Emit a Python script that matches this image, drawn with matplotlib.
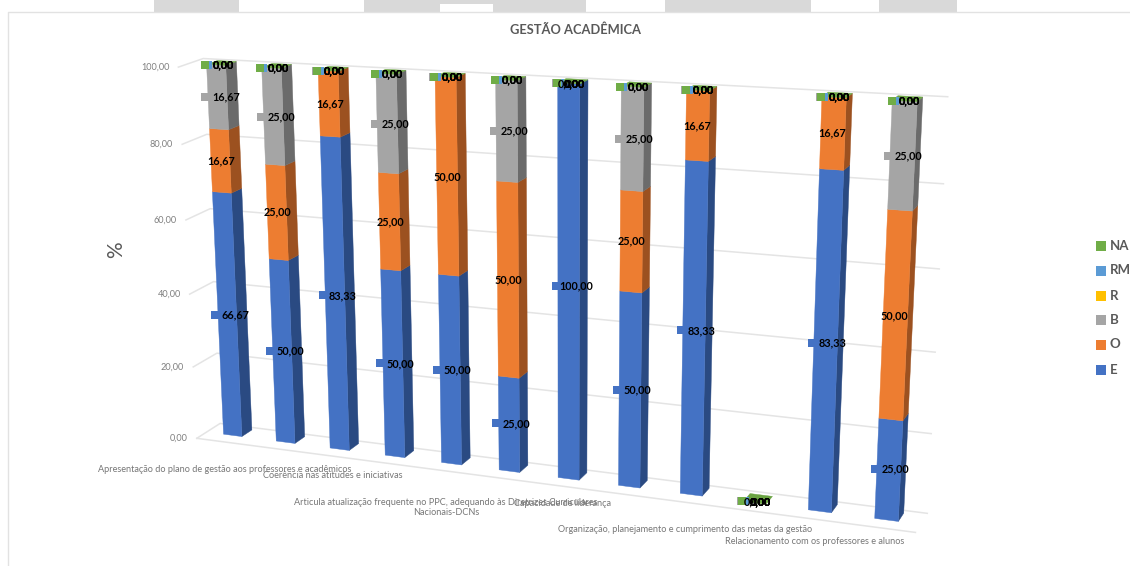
import numpy as np
import matplotlib
matplotlib.use("Agg")
import matplotlib.pyplot as plt
from matplotlib.patches import Polygon, Rectangle

plt.rcParams['font.family'] = ['Lato', 'DejaVu Sans']

# Percentages per item (12 items, stacked from E up to NA)
e_vals = [66.67, 50, 83.33, 50, 50, 25, 100, 50, 83.33, 0, 83.33, 25]
o_vals = [16.67, 25, 16.67, 25, 50, 50, 0, 25, 16.67, 0, 16.67, 50]
b_vals = [16.67, 25, 0, 25, 0, 25, 0, 25, 0, 0, 0, 25]
r_vals = [0] * 12
rm_vals = [0] * 12
na_vals = [0] * 12

series_names = ['E', 'O', 'B', 'R', 'RM', 'NA']
series_vals = [e_vals, o_vals, b_vals, r_vals, rm_vals, na_vals]
front_colors = ['#4472c4', '#ed7d31', '#a5a5a5', '#ffc000', '#5b9bd5', '#70ad47']
side_colors = ['#2a4a82', '#9c5120', '#6b6b6b', '#a67d00', '#3b6589', '#497030']

y_ticks = [0, 20, 40, 60, 80, 100]

# Only every other item gets a name on the axis
cat_labels = [
    (225, 470, "Apresentação do plano de gestão aos professores e acadêmicos"),
    (333, 476, "Coerência nas atitudes e iniciativas"),
    (446, 507.5, "Articula atualização frequente no PPC, adequando às Diretrizes Curriculares\nNacionais-DCNs"),
    (562, 504, "Capacidade de liderança"),
    (685, 530, "Organização, planejamento e cumprimento das metas da gestão"),
    (815, 542, "Relacionamento com os professores e alunos"),
]

BAR_W = 0.35
Z_FRONT = 0.42
Z_BACK = 0.86
X_L = 0.5 - BAR_W / 2
X_R = 0.5 + BAR_W / 2

# Camera: (item, value, depth) -> pixel pairs used to solve the perspective matrix
camera_pts = [
    (0, 0, 0, 199, 437), (0, 0, 1, 218, 423), (0, 100, 0, 178, 64), (0, 100, 1, 207, 57),
    (12, 0, 0, 917, 531), (12, 0, 1, 930, 510), (12, 100, 1, 948, 96),
    (X_L, 0, Z_FRONT, 223, 434), (X_L, 100, Z_FRONT, 205, 64),
    (1 + X_L, 0, Z_FRONT, 277, 441), (1 + X_L, 100, Z_FRONT, 261, 68),
    (2 + X_L, 0, Z_FRONT, 330, 448), (2 + X_L, 100, Z_FRONT, 317, 72),
    (3 + X_L, 0, Z_FRONT, 385, 457), (3 + X_L, 100, Z_FRONT, 376, 76),
    (4 + X_L, 0, Z_FRONT, 442, 463), (4 + X_L, 100, Z_FRONT, 435, 78),
    (5 + X_L, 0, Z_FRONT, 499, 470), (5 + X_L, 100, Z_FRONT, 496, 81),
    (6 + X_L, 0, Z_FRONT, 558, 478), (6 + X_L, 100, Z_FRONT, 558, 83),
    (7 + X_L, 0, Z_FRONT, 618, 486), (7 + X_L, 100, Z_FRONT, 621, 85),
    (8 + X_L, 0, Z_FRONT, 680, 494), (8 + X_L, 100, Z_FRONT, 686, 88),
    (10 + X_L, 0, Z_FRONT, 808, 510), (10 + X_L, 100, Z_FRONT, 822, 96),
    (11 + X_L, 0, Z_FRONT, 873, 518), (11 + X_L, 100, Z_FRONT, 893, 101),
    (X_R, 0, Z_BACK, 252, 430), (X_R, 100, Z_BACK, 236, 61),
    (11 + X_R, 0, Z_BACK, 902, 515), (11 + X_R, 100, Z_BACK, 922, 98),
]


def solve_camera(pts):
    rows, rhs = [], []
    for x, v, z, u, w in pts:
        rows.append([x, v, z, 1, 0, 0, 0, 0, -u * x, -u * v, -u * z])
        rhs.append(u)
        rows.append([0, 0, 0, 0, x, v, z, 1, -w * x, -w * v, -w * z])
        rhs.append(w)
    a = np.array(rows, dtype=float)
    scale = np.abs(a).max(axis=0)
    sol = np.linalg.lstsq(a / scale, np.array(rhs, dtype=float), rcond=None)[0] / scale
    return np.append(sol, 1.0).reshape(3, 4)


CAM = solve_camera(camera_pts)


def project(x, v, z):
    p = CAM @ np.array([x, v, z, 1.0])
    return p[0] / p[2], p[1] / p[2]


fig = plt.figure(figsize=(11.3, 5.66), dpi=100)
ax = fig.add_axes([0, 0, 1, 1])
ax.set_xlim(0, 1130)
ax.set_ylim(566, 0)
ax.axis('off')

# Spreadsheet tabs above the chart area and its frame
for x0, x1 in [(154, 239), (364, 586), (665, 811), (879, 957)]:
    ax.add_patch(Rectangle((x0, 0), x1 - x0, 12, fc='#d9d9d9', ec='none', zorder=1))
ax.add_patch(Rectangle((440, 4), 53, 8, fc='white', ec='none', zorder=1))
ax.plot([8, 8, 1130], [566, 12, 12], color='#e2e2e2', lw=1, zorder=1)

# Walls and floor
grid_c = '#e4e4e4'
for t in y_ticks:
    pts = [project(0, t, 0), project(0, t, 1), project(12, t, 1)]
    ax.plot([p[0] for p in pts], [p[1] for p in pts], color=grid_c, lw=1.1, zorder=2)
    gx, gy = pts[0]
    ax.text(gx - 9, gy, f"{t:.2f}".replace('.', ','), ha='right', va='center',
            fontsize=6.6, color='#7f7f7f', zorder=6)
pts = [project(0, 0, 0), project(12, 0, 0)]
ax.plot([p[0] for p in pts], [p[1] for p in pts], color=grid_c, lw=1.1, zorder=2)


def quad(corners, color):
    ax.add_patch(Polygon(corners, closed=True, fc=color, ec=color, lw=0.3, zorder=3))


# Stacked bars, each segment has a front face and a right side face
for i in range(12):
    xl, xr = i + X_L, i + X_R
    base = 0
    for s, vals in enumerate(series_vals):
        top = base + vals[i]
        if vals[i] > 0:
            quad([project(xr, base, Z_FRONT), project(xr, base, Z_BACK),
                  project(xr, top, Z_BACK), project(xr, top, Z_FRONT)], side_colors[s])
            quad([project(xl, base, Z_FRONT), project(xr, base, Z_FRONT),
                  project(xr, top, Z_FRONT), project(xl, top, Z_FRONT)], front_colors[s])
        base = top
    quad([project(xl, base, Z_FRONT), project(xr, base, Z_FRONT),
          project(xr, base, Z_BACK), project(xl, base, Z_BACK)], '#6aa342')

# Data labels, with a legend key in front of them except for O
key_offset = {'E': -17, 'B': -17, 'R': -13, 'RM': -13, 'NA': -16}
for i in range(12):
    base = 0
    for s, vals in enumerate(series_vals):
        name = series_names[s]
        mid = base + vals[i] / 2
        cx, cy = project(i + 0.5, mid, 0.58)
        cx += 1
        cy += 1.5
        txt = f"{vals[i]:.2f}".replace('.', ',')
        if name == 'O':
            tx = cx - 4
        elif vals[i] == 0:
            tx = cx + 2
        else:
            tx = cx + 3.5
        if name != 'O':
            ax.plot(cx + key_offset[name], cy, marker='s', ms=5.4, mew=0,
                    color=front_colors[s], zorder=5)
        ax.text(tx, cy, txt, ha='center', va='center', fontsize=7.8,
                fontweight='bold', color='black', zorder=7)
        base += vals[i]

# Item names under the floor
for x, y, label in cat_labels:
    ax.text(x, y, label, ha='center', va='center', fontsize=6.55, color='#767676',
            linespacing=1.25, zorder=6)

ax.text(575, 30, "GESTÃO ACADÊMICA", ha='center', va='center', fontsize=9.3,
        fontweight='bold', color='#595959')
ax.text(116, 250, "%", ha='center', va='center', rotation=90, fontsize=15, color='#595959')

# Legend, top entry is the last series
legend_y = [369.5, 344.5, 319.5, 295.5, 270.5, 246]
for s, y in enumerate(legend_y):
    ax.plot(1100.5, y, marker='s', ms=6.5, mew=0, color=front_colors[s])
    ax.text(1110, y, series_names[s], ha='left', va='center', fontsize=9.5,
            fontweight='bold', color='#595959')

fig.savefig('out.png', dpi=100)
